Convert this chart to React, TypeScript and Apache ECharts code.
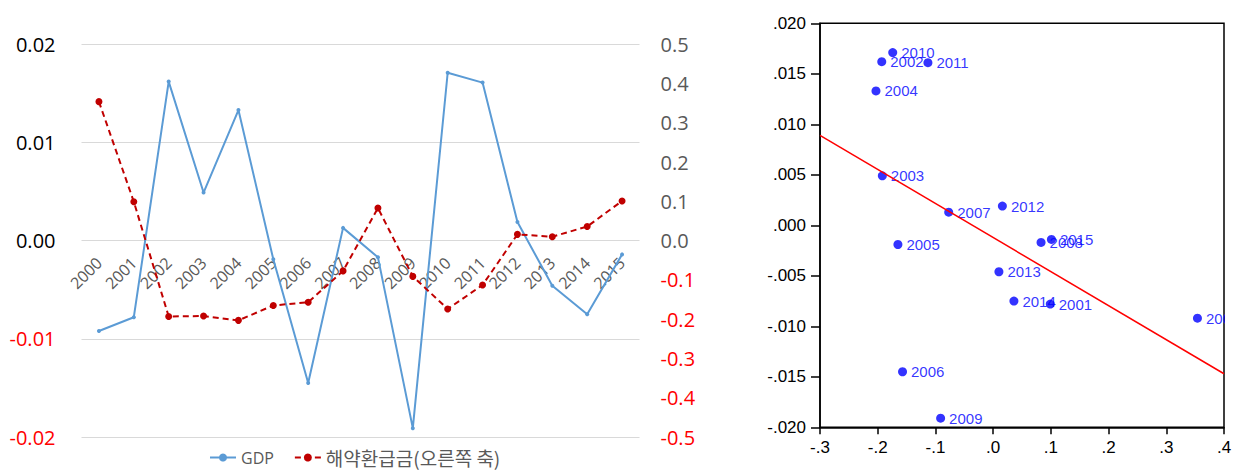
import React, { useEffect, useRef } from "react";
import * as echarts from "echarts";

const years = ["2000","2001","2002","2003","2004","2005","2006","2007","2008","2009","2010","2011","2012","2013","2014","2015"];
const gdp = [-0.0092,-0.0078,0.0162,0.0049,0.0133,-0.0019,-0.0145,0.0013,-0.0017,-0.0191,0.0171,0.0161,0.0019,-0.0046,-0.0075,-0.0014];
const refund = [0.354,0.099,-0.193,-0.192,-0.203,-0.165,-0.157,-0.077,0.083,-0.091,-0.174,-0.113,0.016,0.010,0.036,0.101];
const fitLine = [[-0.3, 0.0089], [0.4, -0.0147]];
const gdpName = "GDP";
const refundName = "해약환급금(오른쪽 축)";

const strip0 = (s: string) => s.replace("0.", ".");

export default function App() {
  const ref = useRef<HTMLDivElement>(null);
  useEffect(() => {
    if (!ref.current) return;
    const chart = echarts.init(ref.current, null, { renderer: "svg" });
    const scatterData = years.map((y, i) => [refund[i], gdp[i], y]);
    chart.setOption({
      animation: false,
      backgroundColor: "#fff",
      legend: {
        data: [gdpName, refundName],
        left: 204,
        top: 443,
        itemWidth: 26,
        itemHeight: 10,
        itemGap: 20,
        selectedMode: false,
        textStyle: {
          color: "#595959",
          fontSize: 16,
          fontFamily: "Open Sans",
          rich: {
            k: { fontSize: 19, color: "#595959", fontFamily: "Noto Sans CJK KR" },
          },
        },
        formatter: (n: string) => (n === gdpName ? n : `{k|${n}}`),
      },
      grid: [
        { left: 81.5, right: 1233 - 639.5, top: 44.3, bottom: 474 - 437, containLabel: false, outerBoundsMode: "none" },
        { left: 820, right: 1233 - 1224, top: 23.3, bottom: 474 - 427.3, containLabel: false, outerBoundsMode: "none", show: true, borderColor: "#000", borderWidth: 1.5 },
      ],
      xAxis: [
        {
          type: "category",
          gridIndex: 0,
          data: years,
          boundaryGap: true,
          offset: -196,
          axisLine: { show: false, onZero: false },
          axisTick: { show: false },
          splitLine: { show: false },
          axisLabel: { interval: 0, rotate: 45, margin: 19, color: "#595959", fontSize: 16, fontFamily: "Open Sans" },
        },
        {
          type: "value",
          gridIndex: 1,
          min: -0.3,
          max: 0.4,
          interval: 0.1,
          axisLine: { show: true, onZero: false, lineStyle: { color: "#000", width: 1.5 } },
          axisTick: { show: true, length: 7, lineStyle: { color: "#000", width: 1.5 } },
          splitLine: { show: false },
          axisLabel: { margin: 12, color: "#000", fontSize: 17, fontFamily: "Liberation Sans", formatter: (v: number) => strip0(v.toFixed(1)) },
        },
      ],
      yAxis: [
        {
          type: "value",
          gridIndex: 0,
          min: -0.02,
          max: 0.02,
          interval: 0.01,
          axisLine: { show: false },
          axisTick: { show: false },
          splitLine: { show: true, lineStyle: { color: "#d9d9d9", width: 1 } },
          axisLabel: {
            margin: 26,
            fontSize: 20,
            fontFamily: "Open Sans",
            color: (v: any) => (Number(v) < 0 ? "#ff0000" : "#000"),
            formatter: (v: number) => v.toFixed(2),
          },
        },
        {
          type: "value",
          gridIndex: 0,
          position: "right",
          min: -0.5,
          max: 0.5,
          interval: 0.1,
          axisLine: { show: false },
          axisTick: { show: false },
          splitLine: { show: false },
          axisLabel: {
            margin: 21,
            fontSize: 20,
            fontFamily: "Open Sans",
            color: (v: any) => (Number(v) < 0 ? "#ff0000" : "#595959"),
            formatter: (v: number) => v.toFixed(1),
          },
        },
        {
          type: "value",
          gridIndex: 1,
          min: -0.02,
          max: 0.02,
          interval: 0.005,
          axisLine: { show: true, onZero: false, lineStyle: { color: "#000", width: 1.5 } },
          axisTick: { show: true, length: 9, lineStyle: { color: "#000", width: 1.5 } },
          splitLine: { show: false },
          axisLabel: { margin: 14, color: "#000", fontSize: 17, fontFamily: "Liberation Sans", formatter: (v: number) => strip0(v.toFixed(3)) },
        },
      ],
      series: [
        {
          name: gdpName,
          type: "line",
          xAxisIndex: 0,
          yAxisIndex: 0,
          data: gdp,
          symbol: "circle",
          symbolSize: 4,
          itemStyle: { color: "#5b9bd5" },
          lineStyle: { color: "#5b9bd5", width: 2 },
        },
        {
          name: refundName,
          type: "line",
          xAxisIndex: 0,
          yAxisIndex: 1,
          data: refund,
          symbol: "circle",
          symbolSize: 7,
          itemStyle: { color: "#c00000" },
          lineStyle: { color: "#c00000", width: 2, type: [6, 4] },
        },
        {
          name: "scatter",
          type: "scatter",
          xAxisIndex: 1,
          yAxisIndex: 2,
          data: scatterData,
          symbol: "circle",
          symbolSize: 9,
          itemStyle: { color: "#0000ff" },
          label: {
            show: true,
            position: "right",
            distance: 4,
            color: "#0000ff",
            fontSize: 15,
            fontFamily: "Liberation Sans",
            formatter: (p: any) => p.data[2],
          },
        },
        {
          name: "fit",
          type: "line",
          xAxisIndex: 1,
          yAxisIndex: 2,
          data: fitLine,
          symbol: "none",
          lineStyle: { color: "#ff0000", width: 1.5 },
          z: 3,
        },
      ],
      graphic: [
        { type: "rect", shape: { x: 1225, y: 0, width: 20, height: 428 }, style: { fill: "#fff" }, z: 100 },
      ],
    });
    return () => chart.dispose();
  }, []);
  return <div ref={ref} style={{ position: "fixed", left: 0, top: 0, width: 1233, height: 474 }} />;
}
